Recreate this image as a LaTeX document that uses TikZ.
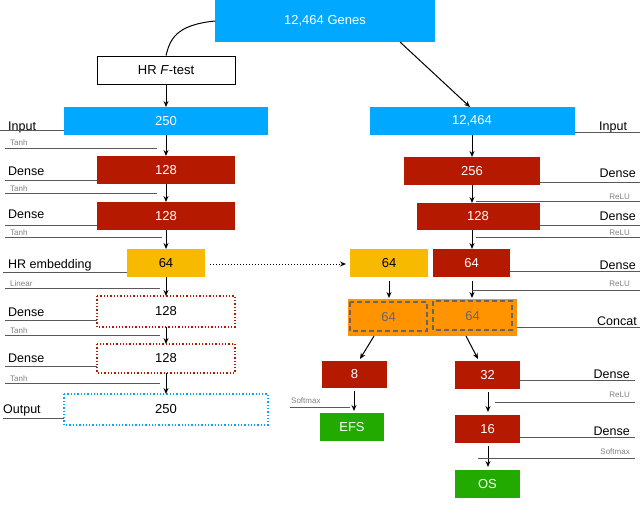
\documentclass[tikz,border=0pt]{standalone}
\usepackage{fontspec}
\setmainfont{Liberation Sans}
\usetikzlibrary{arrows.meta}
\definecolor{cblue}{HTML}{00A8FF}
\definecolor{cred}{HTML}{B51A00}
\definecolor{cyel}{HTML}{F7BA00}
\definecolor{corange}{HTML}{FF9300}
\definecolor{cgreen}{HTML}{22AA00}
\definecolor{cgray}{HTML}{808080}
\begin{document}
\begin{tikzpicture}[x=1pt,y=-1pt,
  box/.style={draw=none,inner sep=0,font=\fontsize{13}{15}\selectfont,text=white},
  arr/.style={-{Stealth[length=6pt,width=5pt]},line width=1pt},
  lab/.style={font=\fontsize{12.5}{14}\selectfont,inner sep=0,anchor=base west},
  rlab/.style={font=\fontsize{12.5}{14}\selectfont,inner sep=0,anchor=base east},
  sm/.style={font=\fontsize{8}{9}\selectfont,text=cgray,inner sep=0,anchor=base west},
  rsm/.style={font=\fontsize{8}{9}\selectfont,text=cgray,inner sep=0,anchor=base east},
  ln/.style={draw=black!65,line width=0.8pt}]
\useasboundingbox (0,0) rectangle (640,504);
\newcommand{\bx}[6]{\path[fill=#5] (#1,#2) rectangle (#3,#4); \node[box,#6] at ({(#1+#3)/2},{(#2+#4)/2})}
% nodes
\fill[cblue] (215,0) rectangle (435,42); \node[box] (genes) at (325,21) {12,464 Genes};
\node[draw,line width=1pt,minimum width=138,minimum height=28,inner sep=0,font=\fontsize{13}{15}\selectfont] (ftest) at (166,70) {HR \textit{F}-test};
\fill[cblue] (64,107) rectangle (268,135); \node[box] (l250) at (166,121) {250};
\fill[cblue] (370,107) rectangle (575,135); \node[box] (r12) at (472,121) {12,464};
\fill[cred] (97,156) rectangle (235,184); \node[box] (l128a) at (166,170) {128};
\fill[cred] (97,202) rectangle (235,230); \node[box] (l128b) at (166,216) {128};
\fill[cyel] (127,249) rectangle (205,277); \node[box,text=black] (l64) at (166,263) {64};
\draw[cred,line width=1.3pt,dotted,fill=white] (97,296) rectangle (235,327); \node[box,text=black] (l128c) at (166,311.5) {128};
\draw[cred,line width=1.3pt,dotted,fill=white] (97,344) rectangle (235,373); \node[box,text=black] (l128d) at (166,358.5) {128};
\draw[cblue,line width=1.3pt,dotted,fill=white] (64,394) rectangle (268,425); \node[box,text=black] (l250o) at (166,409.5) {250};
\fill[cred] (404,157) rectangle (540,185); \node[box] (r256) at (472,171) {256};
\fill[cred] (417,203) rectangle (540,230); \node[box] (r128) at (478,216.5) {128};
\fill[cyel] (350,249) rectangle (428,277); \node[box,text=black] (r64y) at (389,263) {64};
\fill[cred] (433,249) rectangle (510,277); \node[box] (r64r) at (471.5,263) {64};
\fill[corange] (348,299) rectangle (517,336);
\draw[black!60,line width=2pt,dash pattern=on 5pt off 3pt] (350,302) rectangle (427,331);
\draw[black!60,line width=2pt,dash pattern=on 5pt off 3pt] (433,301) rectangle (512,330);
\node[box,text=black!60] (c1) at (388.5,317) {64};
\node[box,text=black!60] (c2) at (472.5,316) {64};
\coordinate (cl) at (374,336); \coordinate (cr) at (466,336);
\fill[cred] (322,361) rectangle (387,388); \node[box] (r8) at (354.5,374.5) {8};
\fill[cgreen] (320,413) rectangle (384,441); \node[box] (efs) at (352,427) {EFS};
\fill[cred] (455,361) rectangle (520,389); \node[box] (r32) at (487.5,375) {32};
\fill[cred] (455,415) rectangle (520,443); \node[box] (r16) at (487.5,429) {16};
\fill[cgreen] (455,470) rectangle (520,498); \node[box] (os) at (487.5,484) {OS};
% connectors
\draw[line width=1pt] (215,21) .. controls (175,25) and (170,40) .. (ftest.north);
\draw[arr] (ftest.south) -- (166,107);
\draw[arr] (400,42) -- (470,107);
\draw[arr] (166,135) -- (166,156);
\draw[arr] (166,184) -- (166,202);
\draw[arr] (166,230) -- (166,249);
\draw[arr] (166,277) -- (166,296);
\draw[arr] (166,327) -- (166,344);
\draw[arr] (166,373) -- (166,394);
\draw[arr] (472,135) -- (472,157);
\draw[arr] (472,185) -- (472,203);
\draw[arr] (472,230) -- (472,249);
\draw[arr] (389,281) -- (389,298);
\draw[arr] (472,281) -- (472,298);
\draw[arr,dotted] (210,264) -- (346,264);
\draw[arr] (cl) -- (360,359);
\draw[arr] (cr) -- (478,359);
\draw[arr] (354,391) -- (354,411);
\draw[arr] (488,392) -- (488,412);
\draw[arr] (488,446) -- (488,467);
% left labels
\node[lab] at (8,130) {Input}; \draw[ln] (0,130) -- (64,130);
\node[sm] at (10,145) {Tanh}; \draw[ln] (5,148) -- (157,148);
\node[lab] at (8,175) {Dense}; \draw[ln] (5,180) -- (97,180);
\node[sm] at (10,191) {Tanh}; \draw[ln] (5,193) -- (157,193);
\node[lab] at (8,218) {Dense}; \draw[ln] (5,225) -- (97,225);
\node[sm] at (10,235) {Tanh}; \draw[ln] (5,237) -- (162,237);
\node[lab] at (8,268) {HR embedding}; \draw[ln] (3,272) -- (127,272);
\node[sm] at (10,286) {Linear}; \draw[ln] (5,288) -- (160,288);
\node[lab] at (8,316) {Dense}; \draw[ln] (5,320) -- (97,320);
\node[sm] at (10,333) {Tanh}; \draw[ln] (5,335) -- (160,335);
\node[lab] at (8,362) {Dense}; \draw[ln] (5,366) -- (97,366);
\node[sm] at (10,381) {Tanh}; \draw[ln] (5,383) -- (160,383);
\node[lab] at (3,413) {Output}; \draw[ln] (3,418) -- (64,418);
% right labels
\node[lab] at (599,130) {Input}; \draw[ln] (575,132) -- (640,132);
\node[rlab] at (636,177) {Dense}; \draw[ln] (540,182) -- (640,182);
\node[rsm] at (630,199) {ReLU}; \draw[ln] (476,201) -- (640,201);
\node[rlab] at (636,220) {Dense}; \draw[ln] (540,225) -- (640,225);
\node[rsm] at (630,235) {ReLU}; \draw[ln] (476,237) -- (640,237);
\node[rlab] at (636,269) {Dense}; \draw[ln] (510,271) -- (640,271);
\node[rsm] at (630,286) {ReLU}; \draw[ln] (472,290) -- (640,290);
\node[rlab] at (637,325) {Concat}; \draw[ln] (517,327) -- (640,327);
\node[rlab] at (630,378) {Dense}; \draw[ln] (520,380) -- (635,380);
\node[rsm] at (630,397) {ReLU}; \draw[ln] (495,402) -- (635,402);
\node[rlab] at (630,435) {Dense}; \draw[ln] (520,437) -- (635,437);
\node[rsm] at (630,454) {Softmax}; \draw[ln] (478,458) -- (635,458);
\node[sm] at (291,403) {Softmax}; \draw[ln] (290,407) -- (350,407);
\end{tikzpicture}
\end{document}
